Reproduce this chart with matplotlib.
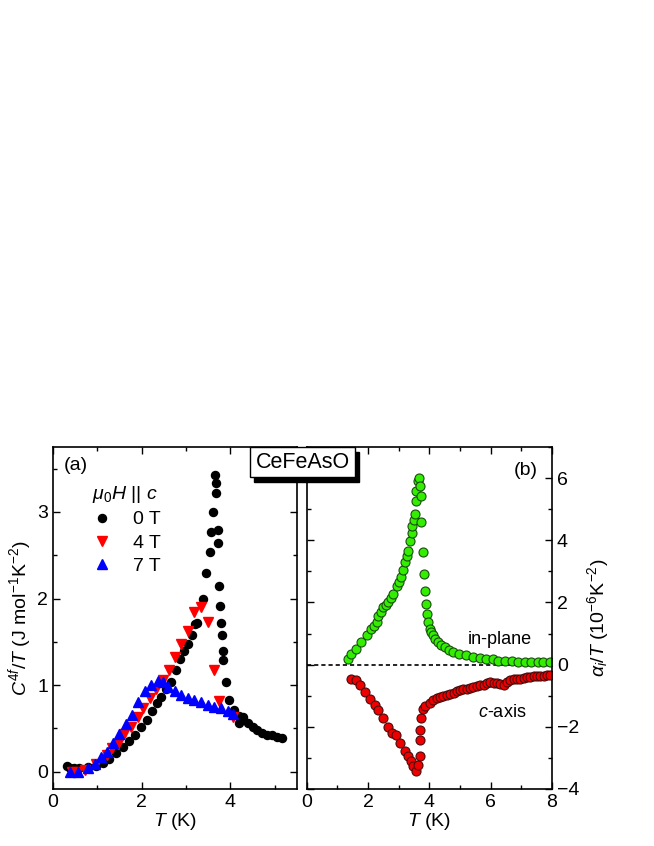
import numpy as np
import matplotlib.pyplot as plt
import matplotlib.patches as mpatches
from matplotlib.ticker import MultipleLocator

plt.rcParams['font.family'] = ['Liberation Sans', 'DejaVu Sans']
plt.rcParams['mathtext.fontset'] = 'custom'
plt.rcParams['mathtext.rm'] = 'Liberation Sans'
plt.rcParams['mathtext.it'] = 'Liberation Sans:italic'

# panel (a): C4f/T for mu0H || c
t_0T = [0.31, 0.38, 0.48, 0.59, 0.78, 0.97, 1.12, 1.27, 1.42, 1.57, 1.72, 1.86, 1.99,
        2.12, 2.23, 2.35, 2.44, 2.55, 2.66, 2.77, 2.87, 2.96, 3.04, 3.13, 3.21, 3.24,
        3.38, 3.45, 3.53, 3.56, 3.60, 3.68, 3.68, 3.66, 3.73, 3.73, 3.75, 3.77, 3.79,
        3.81, 3.83, 3.84, 3.90, 3.98, 4.09, 4.20, 4.28, 4.19, 4.39, 4.50, 4.61, 4.72,
        4.83, 4.94, 5.05, 5.16]
c_0T = [0.06, 0.04, 0.04, 0.04, 0.05, 0.07, 0.10, 0.15, 0.21, 0.28, 0.35, 0.42, 0.52,
        0.60, 0.70, 0.79, 0.86, 0.95, 1.04, 1.18, 1.30, 1.39, 1.48, 1.58, 1.70, 1.72,
        2.00, 2.29, 2.54, 2.77, 3.00, 3.22, 3.33, 3.43, 2.79, 2.64, 2.14, 1.91, 1.72,
        1.58, 1.39, 1.29, 1.04, 0.83, 0.71, 0.64, 0.63, 0.56, 0.56, 0.52, 0.48, 0.45,
        0.42, 0.42, 0.40, 0.39]

t_4T = [0.42, 0.55, 0.72, 0.98, 1.21, 1.33, 1.46, 1.61, 1.76, 1.91, 2.04, 2.19, 2.33,
        2.48, 2.61, 2.76, 2.89, 3.04, 3.19, 3.34, 3.49, 3.64, 3.75, 4.05]
c_4T = [0.00, 0.00, 0.02, 0.09, 0.19, 0.27, 0.32, 0.43, 0.52, 0.63, 0.73, 0.85, 0.95,
        1.06, 1.18, 1.32, 1.47, 1.62, 1.85, 1.90, 1.73, 1.18, 0.82, 0.63]

t_7T = [0.39, 0.57, 0.80, 0.95, 1.08, 1.22, 1.36, 1.49, 1.64, 1.78, 1.92, 2.07, 2.22,
        2.37, 2.48, 2.59, 2.74, 2.89, 3.04, 3.19, 3.34, 3.49, 3.64, 3.79, 3.94, 4.05]
c_7T = [0.00, 0.00, 0.04, 0.09, 0.17, 0.23, 0.33, 0.44, 0.55, 0.65, 0.81, 0.93, 1.00,
        1.05, 1.03, 0.98, 0.93, 0.88, 0.85, 0.83, 0.80, 0.77, 0.75, 0.73, 0.70, 0.67]

# panel (b): thermal expansion alpha_i/T
t_ip = [1.35, 1.46, 1.62, 1.78, 1.95, 2.11, 2.20, 2.30, 2.33, 2.41, 2.49, 2.57, 2.66,
        2.74, 2.82, 2.93, 3.00, 3.06, 3.13, 3.20, 3.26, 3.31, 3.36, 3.42, 3.45, 3.49,
        3.53, 3.56, 3.58, 3.64, 3.67, 3.69, 3.74, 3.74, 3.80, 3.83, 3.85, 3.89, 3.91,
        3.96, 4.01, 4.06, 4.12, 4.20, 4.28, 4.39, 4.50, 4.63, 4.77, 4.98, 5.20, 5.42,
        5.64, 5.86, 6.07, 6.24, 6.46, 6.68, 6.90, 7.11, 7.33, 7.55, 7.71, 7.93]
a_ip = [0.19, 0.35, 0.51, 0.72, 0.94, 1.15, 1.25, 1.37, 1.58, 1.70, 1.85, 1.93, 2.01,
        2.15, 2.28, 2.54, 2.67, 2.81, 3.05, 3.29, 3.48, 3.66, 3.98, 4.25, 4.46, 4.65,
        4.84, 5.27, 5.59, 5.91, 6.01, 5.75, 5.43, 4.60, 3.61, 2.92, 2.38, 1.95, 1.63,
        1.37, 1.15, 1.05, 0.94, 0.82, 0.72, 0.63, 0.56, 0.47, 0.40, 0.35, 0.30, 0.24,
        0.20, 0.19, 0.17, 0.11, 0.11, 0.11, 0.10, 0.10, 0.09, 0.09, 0.10, 0.10]

t_c = [1.46, 1.62, 1.73, 1.89, 2.06, 2.22, 2.33, 2.49, 2.66, 2.77, 2.91, 3.04, 3.20,
       3.31, 3.39, 3.48, 3.57, 3.64, 3.68, 3.70, 3.70, 3.73, 3.79, 3.86, 4.02, 4.13,
       4.24, 4.35, 4.46, 4.57, 4.68, 4.79, 4.90, 5.00, 5.11, 5.22, 5.33, 5.44, 5.55,
       5.66, 5.77, 5.88, 5.99, 6.10, 6.20, 6.31, 6.42, 6.53, 6.64, 6.75, 6.86, 6.97,
       7.08, 7.19, 7.29, 7.40, 7.51, 7.62, 7.73, 7.84, 7.95]
a_c = [-0.45, -0.50, -0.66, -0.88, -1.09, -1.30, -1.46, -1.73, -2.00, -2.20, -2.26,
       -2.52, -2.79, -2.95, -3.11, -3.27, -3.43, -3.22, -2.95, -2.41, -2.09, -1.71,
       -1.44, -1.34, -1.23, -1.15, -1.07, -1.04, -1.01, -0.98, -0.96, -0.90, -0.85,
       -0.82, -0.78, -0.77, -0.75, -0.72, -0.70, -0.67, -0.64, -0.60, -0.57, -0.58,
       -0.60, -0.62, -0.64, -0.55, -0.48, -0.47, -0.46, -0.45, -0.43, -0.41, -0.39,
       -0.37, -0.35, -0.36, -0.37, -0.34, -0.32]

fs = 14

fig = plt.figure(figsize=(6.54, 8.46), dpi=100)
ax1 = fig.add_axes([0.081, 0.0674, 0.373, 0.4042])
ax2 = fig.add_axes([0.469, 0.0674, 0.375, 0.4042])

for ax in (ax1, ax2):
    ax.tick_params(which='both', direction='in', top=True, right=True, labelsize=fs)
    ax.tick_params(which='major', length=5, width=1)
    ax.tick_params(which='minor', length=3, width=1)
    for sp in ax.spines.values():
        sp.set_linewidth(1.2)

# panel (a)
ax1.plot(t_0T, c_0T, 'o', color='black', ms=5.8, label='0 T')
ax1.plot(t_4T, c_4T, 'v', color='red', ms=6.5, label='4 T')
ax1.plot(t_7T, c_7T, '^', color='blue', ms=6.5, label='7 T')
ax1.set_xlim(0, 5.5)
ax1.set_ylim(-0.2, 3.75)
ax1.xaxis.set_major_locator(MultipleLocator(2))
ax1.xaxis.set_minor_locator(MultipleLocator(1))
ax1.yaxis.set_major_locator(MultipleLocator(1))
ax1.yaxis.set_minor_locator(MultipleLocator(0.5))
ax1.set_xlabel('$T$ (K)', fontsize=fs, labelpad=0)
ax1.set_ylabel('$C^{4f}$/$T$ (J mol$^{-1}$K$^{-2}$)', fontsize=fs, labelpad=2)
ax1.text(0.045, 0.97, '(a)', transform=ax1.transAxes, fontsize=fs, va='top')
leg = ax1.legend(loc='upper left', bbox_to_anchor=(0.128, 0.915), frameon=False,
                 fontsize=fs, handlelength=1.0, handletextpad=1.1, borderaxespad=0,
                 labelspacing=0.3, title=r'$\mu_0H$ || $c$', title_fontsize=fs)
leg._legend_box.align = 'left'

# panel (b)
ax2.axhline(0, color='black', ls='--', lw=1.2, dashes=(2.5, 1.8))
ax2.plot(t_ip, a_ip, 'o', mfc='#33ee00', mec='#1a4d10', mew=0.8, ms=6.5)
ax2.plot(t_c, a_c, 'o', mfc='#ee0000', mec='#4a0a0a', mew=0.8, ms=6.5)
ax2.set_xlim(0, 8)
ax2.set_ylim(-4, 7)
ax2.xaxis.set_major_locator(MultipleLocator(2))
ax2.xaxis.set_minor_locator(MultipleLocator(1))
ax2.yaxis.set_major_locator(MultipleLocator(2))
ax2.yaxis.set_minor_locator(MultipleLocator(1))
ax2.yaxis.tick_right()
ax2.tick_params(which='both', left=True, right=True, labelleft=False, labelright=True)
ax2.yaxis.set_label_position('right')
ax2.set_xlabel('$T$ (K)', fontsize=fs, labelpad=0)
ax2.set_ylabel(r'$\alpha_i$/$T$ (10$^{-6}$K$^{-2}$)', fontsize=fs, labelpad=4)
ax2.text(0.94, 0.955, '(b)', transform=ax2.transAxes, fontsize=fs, va='top', ha='right')
ax2.text(6.3, 0.8, 'in-plane', fontsize=13, ha='center', va='center')
ax2.text(6.37, -1.55, '$c$-axis', fontsize=13, ha='center', va='center')

# sample name box with shadow
bx, by, bw, bh = 250 / 654, 1 - 477 / 846, 105 / 654, 30 / 846
fig.patches.append(mpatches.Rectangle((bx + 4 / 654, by - 5 / 846), bw, bh,
                                      transform=fig.transFigure, color='black', zorder=5))
fig.patches.append(mpatches.Rectangle((bx, by), bw, bh, transform=fig.transFigure,
                                      facecolor='white', edgecolor='black', lw=1, zorder=6))
fig.text(bx + bw / 2, by + bh / 2, 'CeFeAsO', fontsize=15.5, ha='center', va='center', zorder=7)

fig.savefig('out.png', dpi=100)
